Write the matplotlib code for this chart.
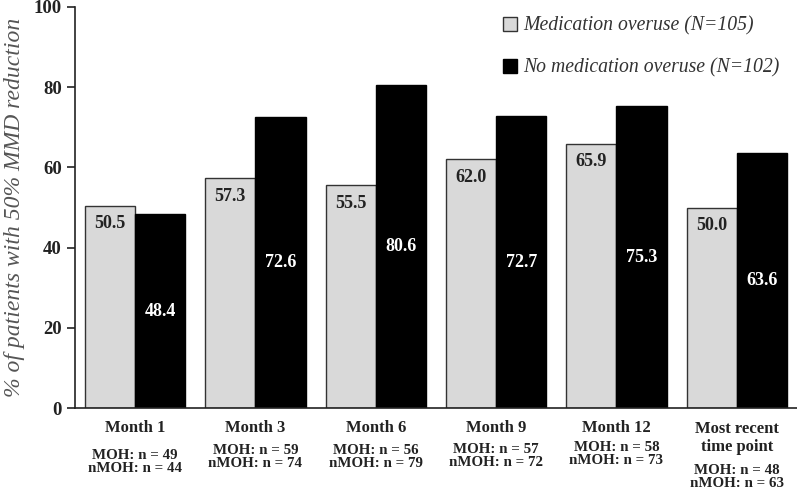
import numpy as np
import matplotlib.pyplot as plt
from matplotlib.patches import Patch

plt.rcParams['font.family'] = ['Liberation Serif', 'DejaVu Serif']

categories = ['Month 1', 'Month 3', 'Month 6', 'Month 9', 'Month 12', 'Most recent\ntime point']
moh = [50.5, 57.3, 55.5, 62.0, 65.9, 50.0]
nmoh = [48.4, 72.6, 80.6, 72.7, 75.3, 63.6]
moh_n = [49, 59, 56, 57, 58, 48]
nmoh_n = [44, 74, 79, 72, 73, 63]

# vertical offsets (pixels below the axis) of the sample size lines
n_offsets = [-54, -49, -49, -48, -46, -69]

fig = plt.figure(figsize=(7.97, 4.93), dpi=100)
ax = fig.add_axes([0.094, 0.172, 0.906, 0.814])

x = np.arange(len(categories))
w = 50 / 120
ax.bar(x - w / 2, moh, w, color='#d9d9d9', edgecolor='#333333', linewidth=1)
ax.bar(x + w / 2, nmoh, w, color='black', edgecolor='black', linewidth=1)

for i in range(len(categories)):
    ax.text(x[i] - w / 2, moh[i] - 4.5, f'{moh[i]:.1f}', ha='center', va='center',
            fontsize=13, fontweight='bold', color='#222222')
    ax.text(x[i] + w / 2, nmoh[i] / 2, f'{nmoh[i]:.1f}', ha='center', va='center',
            fontsize=13, fontweight='bold', color='white')

ax.set_xlim(-0.5, len(categories) - 0.5)
ax.set_ylim(0, 100)
ax.set_yticks(range(0, 101, 20))
ax.tick_params(axis='y', labelsize=13.5, length=6, width=1.2, colors='#222222')
for t in ax.get_yticklabels():
    t.set_fontweight('bold')
ax.set_xticks([])
ax.spines['top'].set_visible(False)
ax.spines['right'].set_visible(False)
ax.spines['left'].set_linewidth(1.2)
ax.spines['bottom'].set_linewidth(1.2)
ax.spines['left'].set_color('#222222')
ax.spines['bottom'].set_color('#222222')

ax.set_ylabel('% of patients with 50% MMD reduction', fontsize=17, style='italic',
              color='#555555', labelpad=6)

# category labels below axis
for i, cat in enumerate(categories):
    off = -30 if '\n' in cat else -20
    ax.annotate(cat, xy=(x[i], 0), xycoords='data', xytext=(0, off),
                textcoords='offset pixels', ha='center', va='center',
                fontsize=12, fontweight='bold', color='#222222', linespacing=1.2)
    ax.annotate(f'MOH: n = {moh_n[i]}\nnMOH: n = {nmoh_n[i]}', xy=(x[i], 0),
                xycoords='data', xytext=(0, n_offsets[i]), textcoords='offset pixels',
                ha='center', va='center', fontsize=10.8, fontweight='bold',
                color='#222222', linespacing=0.95)

handles = [Patch(facecolor='#d9d9d9', edgecolor='#333333', label='Medication overuse (N=105)'),
           Patch(facecolor='black', edgecolor='black', label='No medication overuse (N=102)')]
leg = ax.legend(handles=handles, loc='upper right', bbox_to_anchor=(1.0, 1.02), frameon=False,
                prop={'style': 'italic', 'size': 14.2}, handlelength=0.7, handleheight=0.7,
                handletextpad=0.3, labelspacing=1.15)
for t in leg.get_texts():
    t.set_color('#333333')

fig.savefig('out.png', dpi=100)
